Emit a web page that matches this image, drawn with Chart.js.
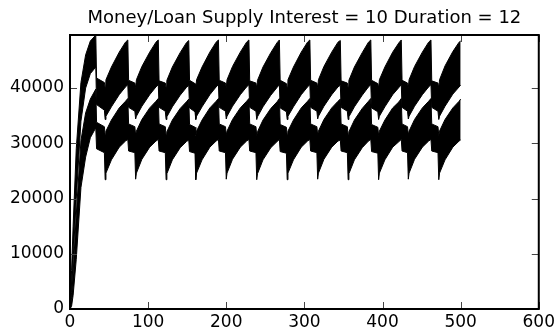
<!DOCTYPE html>
<html>
<head>
<meta charset="utf-8">
<script src="https://cdn.jsdelivr.net/npm/chart.js@4.4.1/dist/chart.umd.min.js"></script>
<style>
  html, body { margin: 0; padding: 0; background: #fff; }
  #chart { display: block; }
</style>
</head>
<body>
<canvas id="chart" width="558" height="334"></canvas>
<script>
// time steps where the band edges change direction
var steps = [
  0, 2, 4, 8, 14, 20, 26, 33, 34, 44,
  45, 46, 53, 63, 71, 74, 75, 83,
  84, 85, 92, 102, 110, 113, 114, 122,
  123, 124, 131, 141, 149, 152, 153, 160,
  161, 162, 169, 179, 187, 190, 191, 199,
  200, 201, 208, 218, 226, 229, 230, 238,
  239, 240, 247, 257, 265, 268, 269, 277,
  278, 279, 286, 296, 304, 307, 308, 316,
  317, 318, 325, 335, 343, 346, 347, 355,
  356, 357, 364, 374, 382, 385, 386, 394,
  395, 396, 403, 413, 421, 424, 425, 432,
  433, 434, 441, 451, 459, 462, 463, 471,
  472, 473, 480, 490, 498, 500
];

// money supply: upper and lower edge of the oscillating band
var moneyHi = [
  0, 7000, 15000, 29000, 41000, 46000, 48500, 49600, 41800, 41000,
  40000, 41500, 43800, 46500, 48300, 48700, 41400, 40900,
  40100, 41500, 43900, 46500, 48300, 48700, 41300, 40900,
  40000, 41400, 43800, 46400, 48200, 48600, 41400, 40800,
  40000, 41500, 43800, 46500, 48300, 48700, 41400, 40900,
  40100, 41500, 43900, 46500, 48300, 48700, 41300, 40900,
  40000, 41400, 43800, 46400, 48200, 48700, 41400, 40800,
  40000, 41500, 43800, 46500, 48300, 48700, 41400, 40900,
  40100, 41500, 43900, 46500, 48300, 48600, 41300, 40900,
  40000, 41400, 43800, 46400, 48300, 48700, 41400, 40800,
  40000, 41500, 43800, 46500, 48200, 48700, 41400, 40900,
  40100, 41500, 43900, 46500, 48300, 48700, 41300, 40900,
  40000, 41500, 44000, 46600, 48300, 48500
];
var moneyLo = [
  0, 3000, 9000, 20000, 34000, 40000, 42600, 43800, 37000, 36000,
  34300, 34900, 36600, 38800, 40200, 40600, 36500, 35800,
  34400, 34900, 36700, 38800, 40200, 40600, 36500, 35800,
  34300, 34800, 36600, 38700, 40100, 40500, 36400, 35700,
  34300, 34900, 36600, 38800, 40200, 40600, 36500, 35800,
  34400, 34900, 36700, 38800, 40200, 40600, 36500, 35800,
  34300, 34800, 36600, 38700, 40100, 40600, 36400, 35700,
  34300, 34900, 36600, 38800, 40200, 40600, 36500, 35800,
  34400, 34900, 36700, 38800, 40200, 40500, 36500, 35800,
  34300, 34800, 36600, 38700, 40200, 40600, 36400, 35700,
  34300, 34900, 36600, 38800, 40100, 40600, 36500, 35800,
  34400, 34900, 36700, 38800, 40200, 40600, 36500, 35800,
  34300, 34900, 36700, 38900, 40200, 40500
];

// loan supply: upper and lower edge of its band
var loanHi = [
  0, 2000, 6500, 17000, 30500, 35500, 38000, 39800, 33800, 33000,
  31400, 32200, 34200, 36400, 37600, 38100, 33500, 33000,
  31500, 32200, 34300, 36400, 37600, 38100, 33500, 33000,
  31400, 32100, 34200, 36300, 37500, 38000, 33400, 32900,
  31400, 32200, 34200, 36400, 37600, 38100, 33500, 33000,
  31500, 32200, 34300, 36400, 37600, 38100, 33500, 33000,
  31400, 32100, 34200, 36300, 37500, 38100, 33400, 32900,
  31400, 32200, 34200, 36400, 37600, 38100, 33500, 33000,
  31500, 32200, 34300, 36400, 37600, 38000, 33500, 33000,
  31400, 32100, 34200, 36300, 37600, 38100, 33400, 32900,
  31400, 32200, 34200, 36400, 37500, 38100, 33500, 33000,
  31500, 32200, 34300, 36400, 37600, 38100, 33500, 33000,
  31400, 32200, 34300, 36400, 37600, 38000
];
var loanLo = [
  0, 500, 2500, 9000, 22000, 27500, 31000, 32800, 29000, 28300,
  23400, 24600, 27000, 29300, 30400, 30700, 28600, 28300,
  23500, 24600, 27100, 29300, 30400, 30700, 28600, 28300,
  23400, 24500, 27000, 29200, 30300, 30600, 28500, 28200,
  23400, 24600, 27000, 29300, 30400, 30700, 28600, 28300,
  23500, 24600, 27100, 29300, 30400, 30700, 28600, 28300,
  23400, 24500, 27000, 29200, 30300, 30700, 28500, 28200,
  23400, 24600, 27000, 29300, 30400, 30700, 28600, 28300,
  23500, 24600, 27100, 29300, 30400, 30600, 28600, 28300,
  23400, 24500, 27000, 29200, 30400, 30700, 28500, 28200,
  23400, 24600, 27000, 29300, 30300, 30700, 28600, 28300,
  23500, 24600, 27100, 29300, 30400, 30700, 28600, 28300,
  23400, 24600, 27000, 29300, 30400, 30600
];

var xTicks = [0, 100, 200, 300, 400, 500, 600];
var yTicks = [0, 10000, 20000, 30000, 40000];
var chartTitle = 'Money/Loan Supply Interest = 10 Duration = 12';

function toPoints(ys) {
  return steps.map(function(x, i) { return { x: x, y: ys[i] }; });
}

function band(ys, fill) {
  return {
    data: toPoints(ys),
    borderColor: '#000',
    backgroundColor: '#000',
    borderWidth: 1,
    pointRadius: 0,
    tension: 0,
    fill: fill
  };
}

// matplotlib-like frame: black box, inward ticks on all four sides, title
var framePlugin = {
  id: 'frame',
  afterDraw: function(chart) {
    var ctx = chart.ctx, a = chart.chartArea;
    var sx = chart.scales.x, sy = chart.scales.y;
    var len = 7;
    ctx.save();
    ctx.strokeStyle = '#444';
    ctx.lineWidth = 1;
    ctx.beginPath();
    xTicks.forEach(function(v) {
      var px = Math.round(sx.getPixelForValue(v)) + 0.5;
      ctx.moveTo(px, a.bottom); ctx.lineTo(px, a.bottom - len);
      ctx.moveTo(px, a.top); ctx.lineTo(px, a.top + len);
    });
    yTicks.forEach(function(v) {
      var py = Math.round(sy.getPixelForValue(v)) + 0.5;
      ctx.moveTo(a.left, py); ctx.lineTo(a.left + len, py);
      ctx.moveTo(a.right, py); ctx.lineTo(a.right - len, py);
    });
    ctx.stroke();
    ctx.strokeStyle = '#000';
    ctx.lineWidth = 2;
    ctx.strokeRect(a.left, a.top, a.right - a.left, a.bottom - a.top);
    ctx.fillStyle = '#000';
    ctx.font = '18px "DejaVu Sans"';
    ctx.textAlign = 'center';
    ctx.textBaseline = 'middle';
    ctx.fillText(chartTitle, (a.left + a.right) / 2, 18);
    ctx.restore();
  }
};

var tickFont = { family: 'DejaVu Sans', size: 17 };
function plainLabel(v) { return String(v); }

var config = {
  type: 'line',
  data: {
    datasets: [
      band(moneyHi, false),
      band(moneyLo, '-1'),
      band(loanHi, false),
      band(loanLo, '-1')
    ]
  },
  options: {
    responsive: false,
    animation: false,
    devicePixelRatio: 1,
    layout: { padding: { top: 35, right: 18, left: 0, bottom: 0 } },
    plugins: {
      legend: { display: false },
      tooltip: { enabled: false },
      title: { display: false }
    },
    scales: {
      x: {
        type: 'linear',
        min: 0,
        max: 600,
        grid: { display: false, drawTicks: false },
        border: { display: false },
        ticks: { color: '#000', font: tickFont, padding: 3, maxRotation: 0, autoSkip: false, callback: plainLabel },
        afterBuildTicks: function(s) { s.ticks = xTicks.map(function(v) { return { value: v }; }); },
        afterFit: function(s) { s.height = 25; }
      },
      y: {
        type: 'linear',
        min: 0,
        max: 49600,
        grid: { display: false, drawTicks: false },
        border: { display: false },
        ticks: { color: '#000', font: tickFont, padding: 6, autoSkip: false, callback: plainLabel },
        afterBuildTicks: function(s) { s.ticks = yTicks.map(function(v) { return { value: v }; }); },
        afterFit: function(s) { s.width = 70; }
      }
    }
  },
  plugins: [framePlugin]
};

var myChart = new Chart(document.getElementById('chart'), config);
</script>
</body>
</html>
